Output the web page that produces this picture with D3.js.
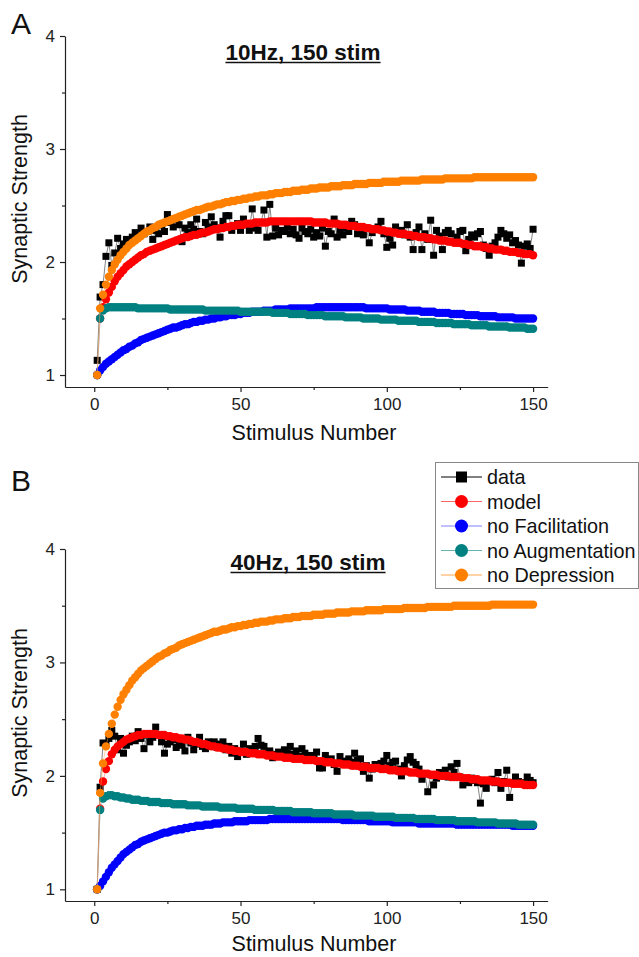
<!DOCTYPE html>
<html><head><meta charset="utf-8">
<script src="https://cdn.jsdelivr.net/npm/d3@7"></script>
<style>body{margin:0;background:#fff}svg{display:block}</style>
</head><body>
<script>
// ---------- DATA ----------
const stimulus = d3.range(1, 151);
const xTicks = [0, 50, 100, 150];
const xMinorTicks = [25, 75, 125];
const yTicks = [1, 2, 3, 4];
const yMinorTicks = [1.5, 2.5, 3.5];
const seriesNames = ["data", "model", "no Facilitation", "no Augmentation", "no Depression"];
const panelTitles = ["10Hz, 150 stim", "40Hz, 150 stim"];
const panelLetters = ["A", "B"];

// Panel A (10Hz)
const dataA = [
1.13,1.69,1.80,2.05,2.17,1.97,2.08,2.21,2.12,2.16,
2.20,2.18,2.22,2.26,2.24,2.30,2.25,2.27,2.31,2.20,
2.28,2.25,2.33,2.27,2.42,2.35,2.31,2.38,2.33,2.18,
2.30,2.26,2.33,2.29,2.38,2.27,2.25,2.35,2.31,2.40,
2.33,2.30,2.22,2.36,2.41,2.41,2.28,2.32,2.34,2.28,
2.38,2.33,2.28,2.47,2.30,2.28,2.35,2.46,2.22,2.51,
2.23,2.30,2.24,2.28,2.27,2.31,2.25,2.29,2.24,2.21,
2.30,2.27,2.25,2.29,2.22,2.26,2.23,2.30,2.14,2.27,
2.25,2.38,2.22,2.28,2.24,2.30,2.27,2.36,2.33,2.25,
2.27,2.24,2.30,2.17,2.26,2.29,2.31,2.36,2.25,2.13,
2.21,2.15,2.31,2.26,2.28,2.24,2.33,2.22,2.11,2.26,
2.31,2.11,2.25,2.20,2.37,2.06,2.28,2.23,2.11,2.26,
2.28,2.25,2.18,2.22,2.27,2.28,2.10,2.20,2.24,2.22,
2.25,2.27,2.15,2.12,2.06,2.14,2.17,2.22,2.28,2.25,
2.21,2.24,2.17,2.19,2.15,1.99,2.14,2.16,2.12,2.29];
const modelA = [
1.00,1.50,1.60,1.67,1.73,1.78,1.83,1.87,1.90,1.93,
1.96,1.98,2.00,2.02,2.04,2.06,2.07,2.09,2.10,2.11,
2.12,2.13,2.14,2.15,2.16,2.17,2.18,2.19,2.20,2.21,
2.22,2.22,2.23,2.24,2.24,2.25,2.26,2.26,2.27,2.28,
2.29,2.29,2.30,2.30,2.31,2.31,2.32,2.32,2.33,2.33,
2.33,2.34,2.34,2.34,2.35,2.35,2.35,2.35,2.35,2.36,
2.36,2.36,2.36,2.36,2.36,2.36,2.36,2.36,2.36,2.36,
2.36,2.36,2.36,2.36,2.35,2.35,2.35,2.35,2.35,2.34,
2.34,2.34,2.34,2.33,2.33,2.33,2.32,2.32,2.32,2.31,
2.31,2.31,2.30,2.30,2.29,2.29,2.29,2.28,2.28,2.27,
2.27,2.26,2.26,2.25,2.25,2.25,2.24,2.24,2.23,2.23,
2.22,2.22,2.22,2.21,2.21,2.20,2.20,2.19,2.19,2.19,
2.18,2.18,2.17,2.17,2.17,2.16,2.16,2.15,2.15,2.14,
2.14,2.14,2.13,2.13,2.12,2.12,2.11,2.11,2.11,2.10,
2.10,2.09,2.09,2.09,2.08,2.08,2.07,2.07,2.07,2.06];
const noFacA = [
1.00,1.04,1.07,1.10,1.12,1.14,1.16,1.18,1.20,1.22,
1.23,1.25,1.26,1.28,1.29,1.31,1.32,1.33,1.34,1.35,
1.36,1.37,1.38,1.39,1.40,1.41,1.42,1.42,1.43,1.44,
1.45,1.45,1.46,1.47,1.47,1.48,1.48,1.49,1.49,1.50,
1.50,1.51,1.51,1.52,1.52,1.53,1.53,1.53,1.54,1.54,
1.55,1.55,1.55,1.56,1.56,1.56,1.56,1.57,1.57,1.57,
1.57,1.58,1.58,1.58,1.58,1.58,1.59,1.59,1.59,1.59,
1.59,1.59,1.59,1.59,1.59,1.60,1.60,1.60,1.60,1.60,
1.60,1.60,1.60,1.60,1.60,1.60,1.60,1.60,1.60,1.60,
1.60,1.60,1.59,1.59,1.59,1.59,1.59,1.59,1.59,1.59,
1.58,1.58,1.58,1.58,1.58,1.58,1.57,1.57,1.57,1.57,
1.57,1.56,1.56,1.56,1.56,1.56,1.55,1.55,1.55,1.55,
1.55,1.54,1.54,1.54,1.54,1.54,1.53,1.53,1.53,1.53,
1.53,1.52,1.52,1.52,1.52,1.52,1.52,1.51,1.51,1.51,
1.51,1.51,1.51,1.50,1.50,1.50,1.50,1.50,1.50,1.50];
const noAugA = [
1.00,1.50,1.57,1.59,1.60,1.60,1.60,1.60,1.60,1.60,
1.60,1.60,1.60,1.60,1.59,1.59,1.59,1.59,1.59,1.59,
1.59,1.59,1.59,1.59,1.59,1.58,1.58,1.58,1.58,1.58,
1.58,1.58,1.58,1.58,1.58,1.58,1.58,1.57,1.57,1.57,
1.57,1.57,1.57,1.57,1.57,1.57,1.57,1.57,1.57,1.56,
1.56,1.56,1.56,1.56,1.56,1.56,1.56,1.56,1.56,1.56,
1.55,1.55,1.55,1.55,1.55,1.55,1.54,1.54,1.54,1.54,
1.54,1.54,1.53,1.53,1.53,1.53,1.53,1.53,1.52,1.52,
1.52,1.52,1.52,1.52,1.52,1.51,1.51,1.51,1.51,1.51,
1.51,1.50,1.50,1.50,1.50,1.50,1.50,1.49,1.49,1.49,
1.49,1.49,1.49,1.48,1.48,1.48,1.48,1.48,1.48,1.48,
1.47,1.47,1.47,1.47,1.47,1.47,1.46,1.46,1.46,1.46,
1.46,1.46,1.45,1.45,1.45,1.45,1.45,1.45,1.44,1.44,
1.44,1.44,1.44,1.44,1.43,1.43,1.43,1.43,1.43,1.43,
1.43,1.42,1.42,1.42,1.42,1.42,1.42,1.41,1.41,1.41];
const noDepA = [
1.00,1.59,1.71,1.80,1.87,1.93,1.98,2.02,2.06,2.09,
2.12,2.15,2.17,2.19,2.21,2.23,2.25,2.27,2.28,2.30,
2.31,2.33,2.34,2.35,2.36,2.37,2.38,2.39,2.40,2.41,
2.42,2.43,2.44,2.45,2.46,2.46,2.47,2.48,2.49,2.49,
2.50,2.51,2.51,2.52,2.53,2.53,2.54,2.54,2.55,2.55,
2.56,2.56,2.57,2.57,2.58,2.58,2.59,2.59,2.59,2.60,
2.60,2.61,2.61,2.61,2.62,2.62,2.62,2.63,2.63,2.63,
2.64,2.64,2.64,2.65,2.65,2.65,2.66,2.66,2.66,2.66,
2.67,2.67,2.67,2.67,2.68,2.68,2.68,2.68,2.69,2.69,
2.69,2.69,2.69,2.70,2.70,2.70,2.70,2.70,2.71,2.71,
2.71,2.71,2.71,2.71,2.72,2.72,2.72,2.72,2.72,2.72,
2.72,2.73,2.73,2.73,2.73,2.73,2.73,2.73,2.73,2.74,
2.74,2.74,2.74,2.74,2.74,2.74,2.74,2.74,2.74,2.75,
2.75,2.75,2.75,2.75,2.75,2.75,2.75,2.75,2.75,2.75,
2.75,2.75,2.75,2.75,2.75,2.75,2.75,2.75,2.75,2.75];

// Panel B (40Hz)
const dataB = [
1.00,1.90,2.29,2.28,2.33,2.40,2.35,2.23,2.33,2.20,
2.27,2.30,2.35,2.31,2.39,2.33,2.24,2.36,2.30,2.34,
2.43,2.36,2.30,2.20,2.28,2.30,2.32,2.25,2.31,2.27,
2.22,2.34,2.29,2.23,2.28,2.34,2.26,2.24,2.30,2.27,
2.30,2.25,2.28,2.30,2.23,2.26,2.20,2.24,2.17,2.22,
2.28,2.19,2.24,2.21,2.26,2.33,2.27,2.26,2.20,2.22,
2.16,2.19,2.21,2.17,2.23,2.20,2.26,2.19,2.22,2.17,
2.24,2.20,2.15,2.18,2.17,2.21,2.07,2.07,2.18,2.12,
2.15,2.10,2.04,2.17,2.13,2.11,2.15,2.12,2.20,2.14,
2.15,2.04,2.09,1.98,2.06,2.10,2.08,2.11,2.13,2.18,
2.09,2.12,2.13,2.06,2.00,2.09,2.14,2.17,2.12,2.10,
2.06,1.97,2.02,1.86,2.01,1.92,1.98,2.03,2.00,2.05,
1.99,2.08,2.03,2.11,1.99,1.92,1.95,1.94,1.98,1.96,
1.94,1.76,1.93,1.89,1.95,1.97,1.94,2.03,1.89,1.95,
2.05,1.81,1.94,1.99,1.95,1.94,1.93,1.99,1.96,1.94];
const modelB = [
1.00,1.71,1.95,2.06,2.13,2.19,2.23,2.26,2.28,2.30,
2.32,2.33,2.34,2.35,2.36,2.36,2.37,2.37,2.37,2.37,
2.37,2.36,2.36,2.36,2.35,2.35,2.34,2.34,2.33,2.33,
2.32,2.32,2.31,2.30,2.30,2.29,2.28,2.28,2.27,2.26,
2.26,2.25,2.25,2.24,2.24,2.23,2.23,2.22,2.22,2.21,
2.21,2.21,2.20,2.20,2.20,2.19,2.19,2.19,2.18,2.18,
2.18,2.17,2.17,2.17,2.16,2.16,2.16,2.15,2.15,2.15,
2.15,2.14,2.14,2.14,2.14,2.13,2.13,2.13,2.12,2.12,
2.12,2.11,2.11,2.11,2.10,2.10,2.10,2.09,2.09,2.09,
2.08,2.08,2.08,2.07,2.07,2.07,2.07,2.06,2.06,2.06,
2.05,2.05,2.05,2.04,2.04,2.04,2.04,2.03,2.03,2.03,
2.02,2.02,2.02,2.02,2.01,2.01,2.01,2.00,2.00,2.00,
2.00,1.99,1.99,1.99,1.99,1.98,1.98,1.98,1.97,1.97,
1.97,1.96,1.96,1.96,1.96,1.95,1.95,1.95,1.94,1.94,
1.94,1.94,1.93,1.93,1.93,1.93,1.92,1.92,1.92,1.92];
const noFacB = [
1.00,1.03,1.07,1.11,1.15,1.19,1.22,1.25,1.28,1.31,
1.33,1.35,1.37,1.39,1.40,1.42,1.43,1.44,1.45,1.46,
1.47,1.48,1.49,1.50,1.50,1.51,1.52,1.52,1.53,1.53,
1.54,1.54,1.55,1.55,1.56,1.56,1.56,1.57,1.57,1.57,
1.58,1.58,1.58,1.59,1.59,1.59,1.59,1.60,1.60,1.60,
1.60,1.60,1.61,1.61,1.61,1.61,1.61,1.61,1.61,1.62,
1.62,1.62,1.62,1.62,1.62,1.62,1.62,1.62,1.62,1.62,
1.62,1.62,1.62,1.62,1.62,1.62,1.62,1.62,1.62,1.62,
1.62,1.62,1.62,1.62,1.61,1.61,1.61,1.61,1.61,1.61,
1.61,1.61,1.61,1.60,1.60,1.60,1.60,1.60,1.60,1.60,
1.60,1.59,1.59,1.59,1.59,1.59,1.59,1.59,1.59,1.59,
1.58,1.58,1.58,1.58,1.58,1.58,1.58,1.58,1.58,1.58,
1.58,1.58,1.58,1.57,1.57,1.57,1.57,1.57,1.57,1.57,
1.57,1.57,1.57,1.57,1.57,1.57,1.57,1.57,1.57,1.57,
1.57,1.57,1.56,1.56,1.56,1.56,1.56,1.56,1.56,1.56];
const noAugB = [
1.00,1.70,1.80,1.82,1.83,1.83,1.82,1.82,1.81,1.81,
1.80,1.80,1.79,1.79,1.79,1.78,1.78,1.78,1.77,1.77,
1.77,1.77,1.76,1.76,1.76,1.76,1.75,1.75,1.75,1.75,
1.75,1.74,1.74,1.74,1.74,1.74,1.73,1.73,1.73,1.73,
1.73,1.73,1.72,1.72,1.72,1.72,1.72,1.72,1.71,1.71,
1.71,1.71,1.71,1.71,1.70,1.70,1.70,1.70,1.70,1.70,
1.70,1.69,1.69,1.69,1.69,1.69,1.69,1.68,1.68,1.68,
1.68,1.68,1.68,1.68,1.67,1.67,1.67,1.67,1.67,1.67,
1.67,1.66,1.66,1.66,1.66,1.66,1.66,1.66,1.65,1.65,
1.65,1.65,1.65,1.65,1.65,1.64,1.64,1.64,1.64,1.64,
1.64,1.64,1.63,1.63,1.63,1.63,1.63,1.63,1.63,1.62,
1.62,1.62,1.62,1.62,1.62,1.62,1.61,1.61,1.61,1.61,
1.61,1.61,1.61,1.60,1.60,1.60,1.60,1.60,1.60,1.60,
1.59,1.59,1.59,1.59,1.59,1.59,1.59,1.58,1.58,1.58,
1.58,1.58,1.58,1.58,1.57,1.57,1.57,1.57,1.57,1.57];
const noDepB = [
1.00,1.85,2.11,2.26,2.37,2.46,2.54,2.61,2.67,2.72,
2.76,2.80,2.84,2.87,2.90,2.93,2.95,2.97,2.99,3.01,
3.03,3.05,3.06,3.08,3.09,3.11,3.12,3.13,3.15,3.16,
3.17,3.18,3.19,3.20,3.21,3.22,3.23,3.24,3.25,3.26,
3.27,3.27,3.28,3.29,3.29,3.30,3.31,3.31,3.32,3.32,
3.33,3.33,3.34,3.34,3.35,3.35,3.36,3.36,3.36,3.37,
3.37,3.38,3.38,3.38,3.39,3.39,3.39,3.40,3.40,3.40,
3.41,3.41,3.41,3.41,3.42,3.42,3.42,3.42,3.43,3.43,
3.43,3.43,3.44,3.44,3.44,3.44,3.44,3.45,3.45,3.45,
3.45,3.45,3.46,3.46,3.46,3.46,3.46,3.46,3.47,3.47,
3.47,3.47,3.47,3.47,3.47,3.48,3.48,3.48,3.48,3.48,
3.48,3.48,3.48,3.49,3.49,3.49,3.49,3.49,3.49,3.49,
3.49,3.49,3.50,3.50,3.50,3.50,3.50,3.50,3.50,3.50,
3.50,3.50,3.50,3.50,3.50,3.51,3.51,3.51,3.51,3.51,
3.51,3.51,3.51,3.51,3.51,3.51,3.51,3.51,3.51,3.51];

// ---------- STYLE ----------
const FONT = '"Liberation Sans", Arial, Helvetica, sans-serif';
const colors = ["#000000", "#ff0000", "#0000ff", "#008080", "#ff8000"];
const lineColors = ["#333333", "#ff6666", "#8080ff", "#66b3b3", "#ffa64d"];
const symbols = ["square", "circle", "circle", "circle", "circle"];

const W = 639, H = 957;
const svg = d3.select("body").append("svg").attr("width", W).attr("height", H)
  .style("font-family", FONT);

const x = d3.scaleLinear().domain([-10, 155]).range([65, 547.7]);

const panels = [
  { letter: panelLetters[0], title: panelTitles[0], series: [dataA, modelA, noFacA, noAugA, noDepA],
    y: d3.scaleLinear().domain([0.894, 4]).range([387, 36]),
    letterY: 34, titleX: 303, titleY: 60, yTitleY: 199, xTitleY: 440, legend: false },
  { letter: panelLetters[1], title: panelTitles[1], series: [dataB, modelB, noFacB, noAugB, noDepB],
    y: d3.scaleLinear().domain([0.897, 4]).range([901, 549]),
    letterY: 491, titleX: 308, titleY: 570, yTitleY: 713, xTitleY: 951, legend: true }
];

panels.forEach(p => {
  const g = svg.append("g");
  const y = p.y;
  const bottom = y.range()[0];

  // series: line then symbols, in order (orange on top)
  p.series.forEach((vals, si) => {
    const pts = stimulus.map((s, i) => [s, vals[i]]);
    g.append("path")
      .attr("d", d3.line().x(d => x(d[0])).y(d => y(d[1]))(pts))
      .attr("fill", "none")
      .attr("stroke", lineColors[si])
      .attr("stroke-width", si === 0 ? 0.6 : 0.5);
    if (symbols[si] === "square") {
      g.append("g").selectAll("rect").data(pts).join("rect")
        .attr("x", d => x(d[0]) - 3.5).attr("y", d => y(d[1]) - 3.5)
        .attr("width", 7).attr("height", 7)
        .attr("fill", colors[si]);
    } else {
      g.append("g").selectAll("circle").data(pts).join("circle")
        .attr("cx", d => x(d[0])).attr("cy", d => y(d[1]))
        .attr("r", 4.2)
        .attr("fill", colors[si]);
    }
  });

  // axes
  const axCol = "#222";
  const xa = g.append("g").attr("transform", `translate(0,${bottom})`)
    .call(d3.axisBottom(x).tickValues(xTicks).tickSize(5).tickSizeOuter(0).tickPadding(6).tickFormat(d3.format("d")));
  const xm = g.append("g").attr("transform", `translate(0,${bottom})`)
    .call(d3.axisBottom(x).tickValues(xMinorTicks).tickSize(3).tickFormat(""));
  xm.select(".domain").remove();
  const ya = g.append("g").attr("transform", `translate(${x.range()[0]},0)`)
    .call(d3.axisLeft(y).tickValues(yTicks).tickSize(5).tickSizeOuter(0).tickPadding(5).tickFormat(d3.format("d")));
  const ym = g.append("g").attr("transform", `translate(${x.range()[0]},0)`)
    .call(d3.axisLeft(y).tickValues(yMinorTicks).tickSize(3).tickFormat(""));
  ym.select(".domain").remove();
  [xa, xm, ya, ym].forEach(a => {
    a.selectAll("path,line").attr("stroke", axCol).attr("stroke-width", 1.2);
    a.selectAll("text").attr("fill", "#222").style("font-size", "17px").style("font-family", FONT);
  });

  // panel letter
  g.append("text").attr("x", 11).attr("y", p.letterY).text(p.letter)
    .style("font-size", "30px").attr("fill", "#111");

  // title (bold, underlined)
  const t = g.append("text").attr("x", p.titleX).attr("y", p.titleY)
    .attr("text-anchor", "middle").style("font-size", "22.5px").style("font-weight", "bold")
    .attr("fill", "#111").text(p.title);
  const tw = t.node().getComputedTextLength();
  g.append("line").attr("x1", p.titleX - tw / 2).attr("x2", p.titleX + tw / 2)
    .attr("y1", p.titleY + 2.5).attr("y2", p.titleY + 2.5)
    .attr("stroke", "#111").attr("stroke-width", 1.6);

  // axis titles
  g.append("text").attr("transform", `translate(27,${p.yTitleY}) rotate(-90)`)
    .attr("text-anchor", "middle").style("font-size", "21.5px").attr("fill", "#111")
    .text("Synaptic Strength");
  g.append("text").attr("x", 314).attr("y", p.xTitleY)
    .attr("text-anchor", "middle").style("font-size", "21.5px").attr("fill", "#111")
    .text("Stimulus Number");

  // legend
  if (p.legend) {
    const lg = svg.append("g");
    lg.append("rect").attr("x", 435.5).attr("y", 462.5).attr("width", 203).attr("height", 126)
      .attr("fill", "#fff").attr("stroke", "#888").attr("stroke-width", 1);
    seriesNames.forEach((name, si) => {
      const cy = 477 + si * 24.5;
      lg.append("line").attr("x1", 441).attr("x2", 482).attr("y1", cy).attr("y2", cy)
        .attr("stroke", si === 0 ? "#000" : lineColors[si]).attr("stroke-width", 1);
      if (symbols[si] === "square") {
        lg.append("rect").attr("x", 461.5 - 5.5).attr("y", cy - 5.5).attr("width", 11).attr("height", 11)
          .attr("fill", colors[si]);
      } else {
        lg.append("circle").attr("cx", 461.5).attr("cy", cy).attr("r", 6.5).attr("fill", colors[si]);
      }
      lg.append("text").attr("x", 487).attr("y", cy).attr("dy", "0.36em")
        .style("font-size", "19.8px").attr("fill", "#111").text(name);
    });
  }
});
</script>
</body></html>
